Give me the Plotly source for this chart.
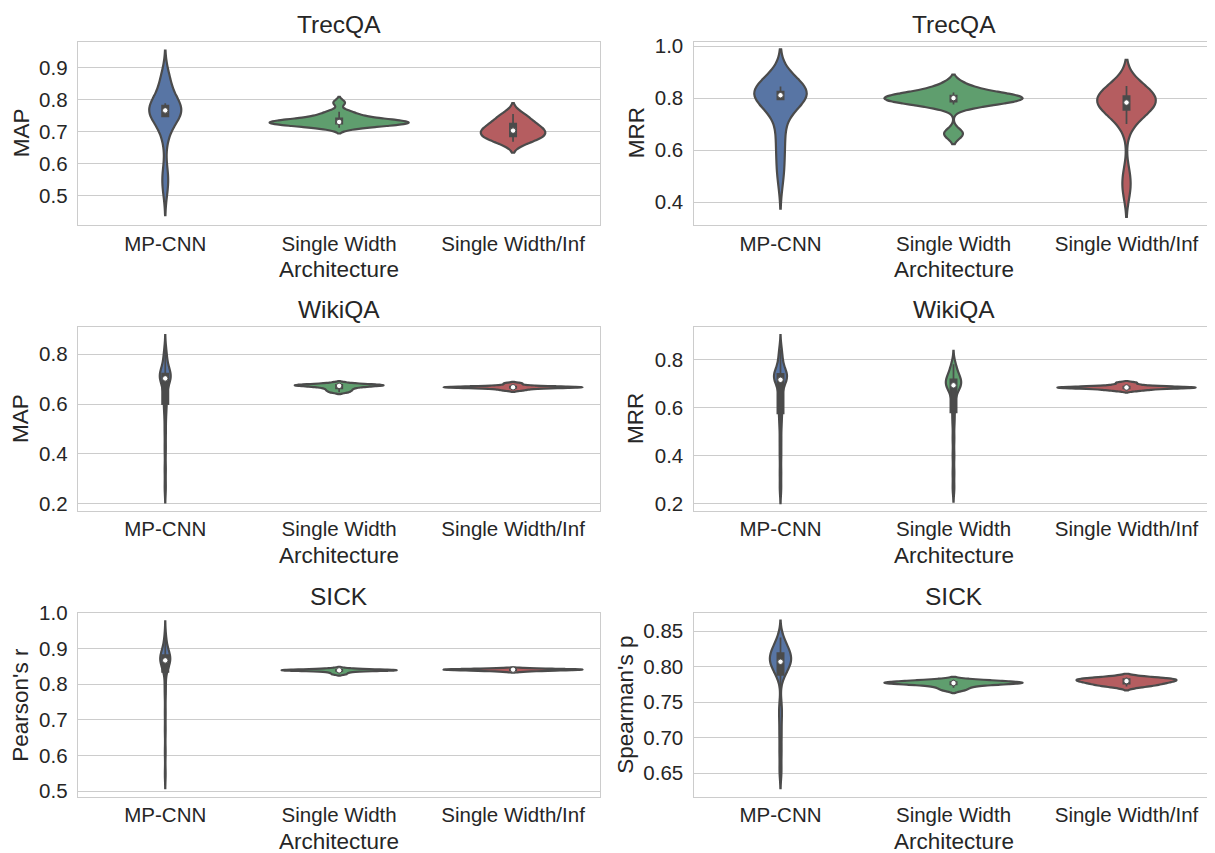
import numpy as np
import plotly.graph_objects as go

# ---------------- data ----------------
categories = ["MP-CNN", "Single Width", "Single Width/Inf"]

# TrecQA - MAP
trecqa_map_mpcnn = [0.52, 0.548, 0.575, 0.685, 0.695, 0.745, 0.75, 0.754, 0.757, 0.76, 0.763, 0.766,
                    0.768, 0.77, 0.773, 0.776, 0.779, 0.783, 0.788, 0.835, 0.848, 0.86, 0.872]
trecqa_map_single = [0.712, 0.716, 0.72, 0.722, 0.724, 0.725, 0.726, 0.727, 0.728, 0.729, 0.731, 0.732,
                     0.734, 0.736, 0.739, 0.743, 0.748, 0.756, 0.762, 0.79]
trecqa_map_inf = [0.668, 0.675, 0.682, 0.688, 0.694, 0.70, 0.706, 0.712, 0.72, 0.73, 0.742, 0.755]

# TrecQA - MRR
trecqa_mrr_mpcnn = [0.491, 0.55, 0.61, 0.66, 0.71, 0.795, 0.799, 0.803, 0.806, 0.809, 0.811, 0.813,
                    0.815, 0.818, 0.821, 0.825, 0.83, 0.835, 0.84, 0.845, 0.872]
trecqa_mrr_single = [0.663, 0.775, 0.783, 0.79, 0.795, 0.80, 0.803, 0.807, 0.813, 0.822, 0.85]
trecqa_mrr_inf = [0.443, 0.50, 0.70, 0.74, 0.755, 0.765, 0.772, 0.778, 0.783, 0.788, 0.793, 0.80,
                  0.808, 0.818, 0.83, 0.838, 0.847]

# WikiQA - MAP
wikiqa_map_mpcnn = [0.265, 0.34, 0.42, 0.49, 0.55, 0.59, 0.61, 0.64, 0.665, 0.685, 0.698, 0.703, 0.706,
                    0.709, 0.712, 0.716, 0.72, 0.725, 0.735, 0.75, 0.77, 0.79, 0.817]
wikiqa_map_single = [0.647, 0.653, 0.658, 0.663, 0.667, 0.67, 0.672, 0.674, 0.675, 0.676, 0.677, 0.678,
                     0.68, 0.685]
wikiqa_map_inf = [0.655, 0.66, 0.663, 0.665, 0.666, 0.667, 0.667, 0.668, 0.668, 0.669, 0.67, 0.672,
                  0.676, 0.683]

# WikiQA - MRR
wikiqa_mrr_mpcnn = [0.263, 0.33, 0.40, 0.46, 0.52, 0.56, 0.59, 0.615, 0.645, 0.675, 0.70, 0.712, 0.718,
                    0.722, 0.726, 0.73, 0.734, 0.738, 0.742, 0.75, 0.77, 0.79, 0.815, 0.841]
wikiqa_mrr_single = [0.264, 0.33, 0.40, 0.47, 0.535, 0.58, 0.62, 0.648, 0.67, 0.686, 0.69, 0.694, 0.698,
                     0.702, 0.706, 0.711, 0.717, 0.725, 0.735, 0.75, 0.765, 0.78]
wikiqa_mrr_inf = [0.669, 0.674, 0.677, 0.679, 0.681, 0.682, 0.683, 0.683, 0.684, 0.685, 0.687, 0.69,
                  0.695, 0.703]

# SICK - Pearson's r
sick_pearson_mpcnn = [0.548, 0.61, 0.67, 0.72, 0.77, 0.80, 0.835, 0.845, 0.852, 0.857, 0.861, 0.864,
                      0.866, 0.868, 0.87, 0.872, 0.874, 0.876, 0.879, 0.882, 0.886, 0.89, 0.897,
                      0.905, 0.918, 0.937]
sick_pearson_single = [0.828, 0.832, 0.835, 0.837, 0.838, 0.8385, 0.839, 0.839, 0.8395, 0.8395, 0.84,
                       0.8405, 0.841, 0.8425, 0.845]
sick_pearson_inf = [0.836, 0.838, 0.839, 0.84, 0.8405, 0.841, 0.841, 0.8415, 0.842, 0.843, 0.844]

# SICK - Spearman's p
sick_spearman_mpcnn = [0.653, 0.68, 0.705, 0.728, 0.745, 0.785, 0.792, 0.796, 0.799, 0.802, 0.804,
                       0.806, 0.808, 0.81, 0.812, 0.814, 0.816, 0.818, 0.82, 0.823, 0.826, 0.83,
                       0.835, 0.841]
sick_spearman_single = [0.767, 0.7705, 0.773, 0.775, 0.776, 0.7765, 0.777, 0.7774, 0.7778, 0.7784,
                        0.7792, 0.7805, 0.7816]
sick_spearman_inf = [0.772, 0.774, 0.776, 0.7775, 0.779, 0.7805, 0.7815, 0.7825, 0.7835, 0.7847]

# tick labels per panel
ticks_trecqa_map = [0.5, 0.6, 0.7, 0.8, 0.9]
ticks_trecqa_mrr = [0.4, 0.6, 0.8, 1.0]
ticks_wikiqa = [0.2, 0.4, 0.6, 0.8]
ticks_sick_pearson = [0.5, 0.6, 0.7, 0.8, 0.9, 1.0]
ticks_sick_spearman = [0.65, 0.70, 0.75, 0.80, 0.85]

# ---------------- styles ----------------
colors = ["#5875A4", "#5F9E6E", "#B55D60"]
outline = "#4B4B4B"
text_color = "#262626"
grid_color = "#cccccc"
FONT = "Liberation Sans, Arial, sans-serif"

panels = [
    dict(title="TrecQA", ylabel="MAP", row=0, col=0,
         data=[trecqa_map_mpcnn, trecqa_map_single, trecqa_map_inf],
         bw=[0.04, 0.009, 0.017], yrange=[0.409, 0.980], ticks=ticks_trecqa_map, fmt="%.1f"),
    dict(title="TrecQA", ylabel="MRR", row=0, col=1,
         data=[trecqa_mrr_mpcnn, trecqa_mrr_single, trecqa_mrr_inf],
         bw=[0.058, 0.02, 0.05], yrange=[0.312, 1.017], ticks=ticks_trecqa_mrr, fmt="%.1f"),
    dict(title="WikiQA", ylabel="MAP", row=1, col=0,
         data=[wikiqa_map_mpcnn, wikiqa_map_single, wikiqa_map_inf],
         bw=[0.03, 0.0037, 0.003], yrange=[0.173, 0.908], ticks=ticks_wikiqa, fmt="%.1f"),
    dict(title="WikiQA", ylabel="MRR", row=1, col=1,
         data=[wikiqa_mrr_mpcnn, wikiqa_mrr_single, wikiqa_mrr_inf],
         bw=[0.03, 0.0275, 0.0035], yrange=[0.172, 0.933], ticks=ticks_wikiqa, fmt="%.1f"),
    dict(title="SICK", ylabel="Pearson's r", row=2, col=0,
         data=[sick_pearson_mpcnn, sick_pearson_single, sick_pearson_inf],
         bw=[0.02, 0.002, 0.0018], yrange=[0.484, 1.001], ticks=ticks_sick_pearson, fmt="%.1f"),
    dict(title="SICK", ylabel="Spearman's p", row=2, col=1,
         data=[sick_spearman_mpcnn, sick_spearman_single, sick_spearman_inf],
         bw=[0.012, 0.0021, 0.0027], yrange=[0.617, 0.876], ticks=ticks_sick_spearman, fmt="%.2f"),
]

# page geometry: the html body puts the figure 8px from the top-left corner
PAGE_W, PAGE_H, OFF = 1215, 853, 8
W, H = PAGE_W - OFF, PAGE_H - OFF


def px_x(x):
    return (x - OFF) / W


def px_y(y):
    return 1 - (y - OFF) / H


col_x = [(78.3, 600.0), (694.0, 1213.0)]
row_y = [(41.7, 225.0), (327.3, 510.5), (612.7, 796.7)]
title_y = [24, 310, 596]
xlabel_y = [270, 555, 841]
ylabel_x = {0: 21, 1: 636}

fig = go.Figure()
layout = {}
annotations = []

for i, p in enumerate(panels):
    k = i + 1
    xa = "x" if k == 1 else f"x{k}"
    ya = "y" if k == 1 else f"y{k}"
    for j, cat in enumerate(categories):
        vals = p["data"][j]
        fig.add_trace(go.Violin(
            x=[cat] * len(vals), y=vals, xaxis=xa, yaxis=ya,
            bandwidth=p["bw"][j], scalegroup=f"panel{k}", scalemode="width",
            spanmode="soft", points=False, fillcolor=colors[j], opacity=1,
            quartilemethod="inclusive",
            line=dict(color=outline, width=2.2),
            box=dict(visible=True, width=0.045, fillcolor=outline,
                     line=dict(color=outline, width=1.75)),
            meanline=dict(visible=False), showlegend=False, hoverinfo="skip"))
    medians = [float(np.median(v)) for v in p["data"]]
    fig.add_trace(go.Scatter(
        x=categories, y=medians, mode="markers", xaxis=xa, yaxis=ya,
        marker=dict(color="white", size=5.5, line=dict(color=outline, width=1)),
        showlegend=False, hoverinfo="skip", cliponaxis=False))

    x0, x1 = col_x[p["col"]]
    y0, y1 = row_y[p["row"]]
    xkey = "xaxis" if k == 1 else f"xaxis{k}"
    ykey = "yaxis" if k == 1 else f"yaxis{k}"
    layout[xkey] = dict(
        domain=[px_x(x0), min(1.0, px_x(x1))], anchor=ya, type="category",
        categoryorder="array", categoryarray=categories, range=[-0.5, 2.5],
        showgrid=False, zeroline=False, showline=True, mirror=True,
        linecolor=grid_color, linewidth=1.25, ticks="",
        tickfont=dict(size=20.5, color=text_color, family=FONT), fixedrange=True)
    layout[ykey] = dict(
        domain=[max(0.0, px_y(y1)), min(1.0, px_y(y0))], anchor=xa, range=p["yrange"],
        tickmode="array", tickvals=p["ticks"], ticktext=[p["fmt"] % t for t in p["ticks"]],
        showgrid=True, gridcolor=grid_color, gridwidth=1.25, zeroline=False,
        showline=True, mirror=True, linecolor=grid_color, linewidth=1.25,
        ticks="outside", ticklen=5.5, tickcolor="rgba(0,0,0,0)",
        tickfont=dict(size=20.5, color=text_color, family=FONT), fixedrange=True)

    cx = px_x((x0 + x1) / 2)
    annotations.append(dict(text=p["title"], x=cx, y=px_y(title_y[p["row"]]),
                            xref="paper", yref="paper", xanchor="center", yanchor="middle",
                            showarrow=False, font=dict(size=24.5, color=text_color, family=FONT)))
    annotations.append(dict(text="Architecture", x=cx, y=px_y(xlabel_y[p["row"]]),
                            xref="paper", yref="paper", xanchor="center", yanchor="middle",
                            showarrow=False, font=dict(size=22.5, color=text_color, family=FONT)))
    lx = ylabel_x[p["col"]] - (10 if p["fmt"] == "%.2f" else 0)
    annotations.append(dict(text=p["ylabel"], x=px_x(lx), y=px_y((y0 + y1) / 2),
                            xref="paper", yref="paper", xanchor="center", yanchor="middle",
                            textangle=-90, showarrow=False,
                            font=dict(size=22.5, color=text_color, family=FONT)))

fig.update_layout(
    width=W, height=H, margin=dict(l=0, r=0, t=0, b=0, autoexpand=False),
    paper_bgcolor="white", plot_bgcolor="white",
    violinmode="overlay", violingap=0.2, violingroupgap=0,
    font=dict(family=FONT, color=text_color),
    annotations=annotations, showlegend=False, **layout)

fig.write_html("out.html")
